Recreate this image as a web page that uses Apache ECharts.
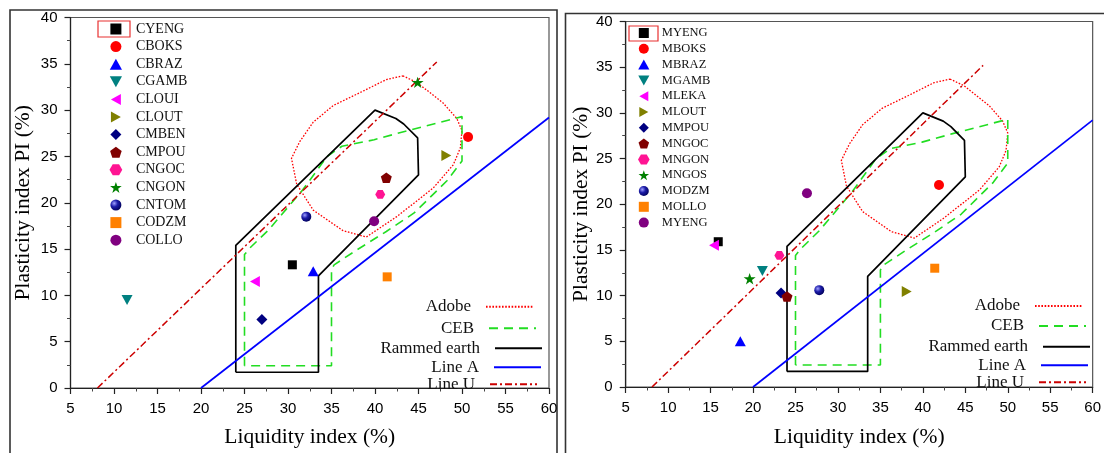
<!DOCTYPE html>
<html><head><meta charset="utf-8">
<script src="https://cdn.jsdelivr.net/npm/echarts@6/dist/echarts.min.js"></script>
<style>html,body{margin:0;padding:0;background:#fff}#c{width:1104px;height:453px}</style>
</head><body><div id="c"></div>
<script>
// ---- data ----
const leftNames = ['CYENG','CBOKS','CBRAZ','CGAMB','CLOUI','CLOUT','CMBEN','CMPOU','CNGOC','CNGON','CNTOM','CODZM','COLLO'];
const leftX = [30.5, 50.7, 32.9, 11.5, 26.2, 48.2, 27.0, 41.3, 40.6, 44.9, 32.1, 41.4, 39.9];
const leftY = [13.3, 27.1, 12.6, 9.5, 11.5, 25.1, 7.4, 22.7, 20.9, 33.0, 18.5, 12.0, 18.0];

const rightNames = ['MYENG','MBOKS','MBRAZ','MGAMB','MLEKA','MLOUT','MMPOU','MNGOC','MNGON','MNGOS','MODZM','MOLLO','MYENG '];
const rightX = [15.9, 41.9, 18.5, 21.1, 15.4, 38.1, 23.3, 24.0, 23.1, 19.6, 27.8, 41.4, 26.35];
const rightY = [15.9, 22.1, 5.0, 12.7, 15.5, 10.45, 10.3, 9.9, 14.4, 11.85, 10.6, 13.0, 21.2];

const lineNames = ['Adobe','CEB','Rammed earth','Line A','Line U'];
const adobeZone = [[43.2,33.7],[44.8,33.0],[47.8,30.8],[49.4,29.1],[50.0,27.8],[49.8,25.9],[49.0,24.1],[46.7,21.6],[44.4,19.9],[42.5,18.5],[39.0,16.3],[36.3,17.0],[32.9,19.2],[31.0,22.0],[30.4,24.8],[31.35,26.6],[32.9,28.7],[35.2,30.5],[38.3,31.9],[41.3,33.3],[43.2,33.7]];
const cebZone = [[25,2.4],[25,14.4],[25.6,15.1],[27.8,17.1],[31.7,21.4],[34.5,25.0],[36.2,26.1],[39.9,26.8],[43.4,27.7],[50,29.3],[50,24.5],[48.3,22.4],[44.5,18.9],[41.3,16.9],[37.9,14.9],[35.3,13.3],[35,12.8],[35,2.4],[25,2.4]];
const rammedZone = [[24,1.7],[24,15.4],[40,30],[42.4,29.1],[43.3,28.5],[44.9,27],[45,23],[33.5,12.1],[33.5,1.7],[24,1.7]];
const lineA = [[20,0],[60,29.2]];
const lineU = [[8.1,0],[47.1,35.2]];

const xTicks = {min:5, max:60, step:5};
const yTicks = {min:0, max:40, step:5};

// ---- styles ----
const P = {
  rect:'path://M0,0 L10,0 L10,10 L0,10 Z',
  up:'path://M5,0 L10,9 L0,9 Z',
  down:'path://M0,0 L10,0 L5,9 Z',
  left:'path://M9,0 L9,10 L0,5 Z',
  right:'path://M0,0 L9,5 L0,10 Z',
  diamond:'path://M5,0 L10,5 L5,10 L0,5 Z',
  pent:'path://M5,0 L10,3.7 L8.1,9.5 L1.9,9.5 L0,3.7 Z',
  hex:'path://M2.5,0 L7.5,0 L10,4.3 L7.5,8.6 L2.5,8.6 L0,4.3 Z',
  star:'path://M50,0 L61.8,35.1 L98.9,35.1 L69,57.3 L80.3,92.7 L50,71 L19.7,92.7 L31,57.3 L1.1,35.1 L38.2,35.1 Z'
};
const sphere = {type:'radial', x:0.35, y:0.35, r:0.7, colorStops:[{offset:0,color:'#a0a0ff'},{offset:0.45,color:'#1c1ca8'},{offset:1,color:'#00005a'}]};
const markerStyles = [
  {symbol:P.rect, size:9, color:'#000000'},
  {symbol:'circle', size:10, color:'#FF0000'},
  {symbol:P.up, size:11, color:'#0000FF'},
  {symbol:P.down, size:11, color:'#008080'},
  {symbol:P.left, size:11, color:'#FF00FF'},
  {symbol:P.right, size:11, color:'#808000'},
  {symbol:P.diamond, size:11, color:'#000080'},
  {symbol:P.pent, size:11, color:'#800000'},
  {symbol:P.hex, size:10, color:'#FF1493'},
  {symbol:P.star, size:12, color:'#008000'},
  {symbol:'circle', size:10, color:sphere},
  {symbol:P.rect, size:9, color:'#FF8000'},
  {symbol:'circle', size:10, color:'#800080'}
];
const lineStyles = {
  'Adobe': {color:'#FF0000', width:1.3, type:[1.6,1.6]},
  'CEB': {color:'#22DD22', width:1.6, type:[9,6]},
  'Rammed earth': {color:'#000000', width:1.7, type:'solid'},
  'Line A': {color:'#0000FF', width:1.7, type:'solid'},
  'Line U': {color:'#CC0000', width:1.5, type:[7,3,2,3]}
};
const lineData = {'Adobe':adobeZone,'CEB':cebZone,'Rammed earth':rammedZone,'Line A':lineA,'Line U':lineU};

const serif = 'Liberation Serif, Times New Roman, serif';
const sans = 'Liberation Sans, Arial, sans-serif';

function axisCommon(t, name, gap) {
  return {
    type:'value', min:t.min, max:t.max, interval:t.step,
    name:name, nameLocation:'middle', nameGap:gap,
    nameTextStyle:{fontFamily:serif, fontSize:21.5, color:'#000'},
    axisLine:{show:true, onZero:false, lineStyle:{color:'#222', width:1.2}},
    axisTick:{show:true, inside:false, length:6, lineStyle:{color:'#222', width:1.2}},
    minorTick:{show:true, splitNumber:2, length:3.5, lineStyle:{color:'#444', width:1}},
    splitLine:{show:false},
    axisLabel:{fontFamily:sans, fontSize:15, color:'#000', margin:13}
  };
}

const series = [];
[0,1].forEach(function(g){
  lineNames.forEach(function(n){
    series.push({type:'line', name:n, xAxisIndex:g, yAxisIndex:g, data:lineData[n],
      symbol:'none', showSymbol:false, silent:true, z:3,
      lineStyle:lineStyles[n], itemStyle:{color:lineStyles[n].color}});
  });
  const names = g===0?leftNames:rightNames, xs = g===0?leftX:rightX, ys = g===0?leftY:rightY;
  names.forEach(function(n,i){
    const s = markerStyles[i];
    series.push({type:'scatter', name:n, xAxisIndex:g, yAxisIndex:g, data:[[xs[i],ys[i]]],
      symbol:s.symbol, symbolSize:s.size, symbolKeepAspect:true, itemStyle:{color:s.color, opacity:1}, z:5});
  });
});

const legends = [
  {orient:'vertical', left:109.5, top:22, padding:0, itemWidth:30, itemHeight:11, itemGap:3.6, symbolKeepAspect:true,
   data:leftNames, selectedMode:false, textStyle:{fontFamily:serif, fontSize:14, color:'#111'}},
  {orient:'vertical', left:638, top:26.5, padding:0, itemWidth:26, itemHeight:10, itemGap:2.8, symbolKeepAspect:true,
   data:rightNames, selectedMode:false, textStyle:{fontFamily:serif, fontSize:12.5, color:'#111'}}
];
const lineLegendPos = [
  [[534,306.7],[537,328.3],[543,348.3],[542,367.3],[538,384.3]],
  [[1083,306],[1087,326],[1091,346.7],[1089,365.3],[1087,382.3]]
];
lineLegendPos.forEach(function(panel){
  panel.forEach(function(p,i){
    legends.push({data:[lineNames[i]], right:1104-p[0], top:p[1]-8.5, padding:0, align:'right',
      itemWidth:47, itemHeight:10, selectedMode:false,
      itemStyle:{opacity:0, borderWidth:0},
      textStyle:{fontFamily:serif, fontSize:17, color:'#111', padding:[0,10,0,0]}});
  });
});

const option = {
  animation:false,
  backgroundColor:'#fff',
  grid:[
    {left:70.5, top:17.5, width:478.5, height:376.8, show:true, borderColor:'#555', borderWidth:1.2, backgroundColor:'transparent'},
    {left:625.7, top:21.5, width:471.3, height:371.2, show:true, borderColor:'#555', borderWidth:1.2, backgroundColor:'transparent'}
  ],
  xAxis:[
    Object.assign(axisCommon(xTicks,'Liquidity index (%)',38), {gridIndex:0}),
    Object.assign(axisCommon(xTicks,'Liquidity index (%)',39), {gridIndex:1})
  ],
  yAxis:[
    Object.assign(axisCommon(yTicks,'Plasticity index PI (%)',36), {gridIndex:0}),
    Object.assign(axisCommon(yTicks,'Plasticity index PI (%)',31), {gridIndex:1})
  ],
  legend:legends,
  graphic:[
    {type:'rect', silent:true, z:-10, shape:{x:10,y:10,width:547,height:470}, style:{fill:'none', stroke:'#333', lineWidth:1.6}},
    {type:'rect', silent:true, z:-10, shape:{x:565.5,y:13.5,width:560,height:470}, style:{fill:'none', stroke:'#333', lineWidth:1.6}},
    {type:'rect', silent:true, z:100, shape:{x:98,y:21,width:32,height:16}, style:{fill:'none', stroke:'#E83030', lineWidth:1.2}},
    {type:'rect', silent:true, z:100, shape:{x:629,y:26,width:29,height:15}, style:{fill:'none', stroke:'#E83030', lineWidth:1.2}}
  ],
  series:series
};
const chart = echarts.init(document.getElementById('c'));
chart.setOption(option);
</script>
</body></html>
